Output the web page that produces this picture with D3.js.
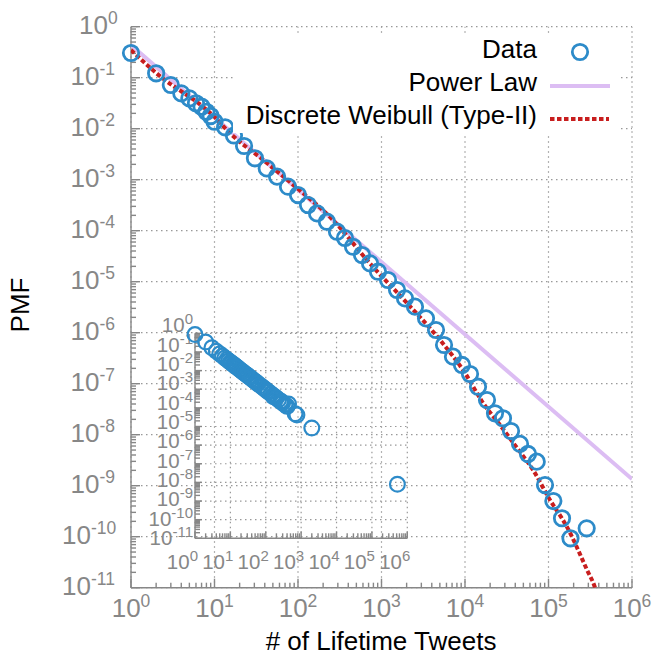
<!DOCTYPE html>
<html>
<head>
<meta charset="utf-8">
<script src="https://cdn.jsdelivr.net/npm/d3@7/dist/d3.min.js"></script>
<style>
  body { margin: 0; background: #fff; }
  text { font-family: "Liberation Sans", Arial, Helvetica, sans-serif; }
</style>
</head>
<body>
<div class="canvas"></div>
<script>
// data
var tweets = [1, 2, 3, 4, 5, 6, 7, 8, 9, 10, 13.4, 17.1, 22.6, 30.5, 42.2, 56.1, 75.9, 100, 131.8, 169,
  222, 293, 365, 456, 584, 728, 908, 1197, 1535, 1910, 2518, 3412, 4498, 5610, 7180, 9200, 11480, 14320,
  18340, 22870, 28510, 35560, 45600, 56800, 72300, 90800, 114300, 145200, 183300, 286600];
var pmf = [0.305, 0.122, 0.072, 0.0494, 0.0394, 0.0315, 0.027, 0.0215, 0.0177, 0.0137, 0.01065, 7.36e-3,
  4.58e-3, 2.63e-3, 1.67e-3, 1.15e-3, 7.3e-4, 5.0e-4, 3.19e-4, 2.19e-4, 1.5e-4, 9.55e-5, 7.2e-5, 4.85e-5,
  3.33e-5, 2.29e-5, 1.57e-5, 1.08e-5, 6.87e-6, 4.72e-6, 3.24e-6, 1.91e-6, 1.13e-6, 5.74e-7, 3.39e-7,
  2.33e-7, 1.55e-7, 8.73e-8, 4.79e-8, 2.63e-8, 2.10e-8, 1.18e-8, 6.6e-9, 4.19e-9, 2.96e-9, 1.03e-9,
  5.0e-10, 2.30e-10, 9.3e-11, 1.46e-10];

var powerLawX = [1, 1e6];
var powerLawY = [0.437, 1.35e-9];

var weibullX = [1, 2, 10, 15.3, 38.1, 97.3, 241.6, 791, 2019, 5020, 10000, 16440, 26250, 41970, 65200,
  104200, 166700, 289000, 360600, 420000];
var weibullY = [0.349, 0.124, 0.017, 8.2e-3, 2.45e-3, 6.87e-4, 1.86e-4, 1.95e-5, 3.82e-6, 7.2e-7, 1.62e-7,
  4.19e-8, 1.55e-8, 5.5e-9, 2.04e-9, 5.25e-10, 1.55e-10, 2.24e-11, 1e-11, 4e-12];

// inset: raw (unbinned) values
var insetX = [1, 2, 3, 4, 5, 6, 7, 8, 9, 10, 11, 12, 13, 14, 15, 16, 18, 20, 22, 25, 28, 30, 33, 36, 40,
  45, 50, 55, 60, 70, 80, 90, 100, 110, 120, 140, 160, 164, 180, 200, 230, 260, 282, 300, 350, 400, 440,
  676, 759, 2000, 525000];
var insetY = [0.851, 0.34, 0.168, 0.109, 0.0786, 0.0601, 0.0478, 0.0393, 0.033, 0.0282, 0.0245, 0.0215,
  0.0191, 0.0171, 0.0155, 0.0141, 0.0118, 0.0101, 8.77e-3, 7.26e-3, 6.14e-3, 5.54e-3, 4.81e-3, 4.24e-3,
  3.62e-3, 3.04e-3, 2.6e-3, 2.26e-3, 1.99e-3, 1.58e-3, 1.3e-3, 1.09e-3, 9.3e-4, 8.1e-4, 7.1e-4, 5.7e-4,
  4.66e-4, 4.0e-4, 3.91e-4, 3.34e-4, 2.72e-4, 2.27e-4, 2.14e-4, 1.84e-4, 1.46e-4, 1.2e-4, 1.6e-4, 4.8e-5,
  4.17e-5, 8.3e-6, 7.9e-9];

var xExps = [0, 1, 2, 3, 4, 5, 6];
var yExps = [0, -1, -2, -3, -4, -5, -6, -7, -8, -9, -10, -11];
var legendNames = ['Data', 'Power Law', 'Discrete Weibull (Type-II)'];

var blue = '#2d8bc9', purple = '#dcbdf3', red = '#c81e1e', grey = '#878787';

var svg = d3.select('.canvas').append('svg')
  .attr('width', 653).attr('height', 656);

// main plot scales
var x = d3.scaleLog().domain([1, 1e6]).range([131, 632]);
var y = d3.scaleLog().domain([1e-11, 1]).range([587.7, 26.7]);

// inset scales
var ix = d3.scaleLog().domain([1, 1e6]).range([195, 407.3]);
var iy = d3.scaleLog().domain([1e-11, 1]).range([538.3, 333.3]);

function minors(exps) {
  var out = [];
  exps.forEach(function (e) {
    for (var k = 2; k <= 9; k++) out.push(k * Math.pow(10, e));
  });
  return out;
}

function drawGrid(g, sx, sy) {
  var x0 = sx.range()[0], x1 = sx.range()[1], y0 = sy.range()[0], y1 = sy.range()[1];
  g.selectAll('.hg').data(yExps).enter().append('line')
    .attr('x1', x0).attr('x2', x1)
    .attr('y1', function (e) { return sy(Math.pow(10, e)); })
    .attr('y2', function (e) { return sy(Math.pow(10, e)); });
  g.selectAll('.vg').data(xExps).enter().append('line')
    .attr('y1', y0).attr('y2', y1)
    .attr('x1', function (e) { return sx(Math.pow(10, e)); })
    .attr('x2', function (e) { return sx(Math.pow(10, e)); });
  g.selectAll('line')
    .style('stroke', '#999').style('stroke-width', 1.2).style('stroke-dasharray', '1.5,3.5');
}

function drawAxes(g, sx, sy, major, minor) {
  var x0 = sx.range()[0], y0 = sy.range()[0];
  g.append('line').attr('x1', x0).attr('x2', sx.range()[1]).attr('y1', y0).attr('y2', y0);
  g.append('line').attr('x1', x0).attr('x2', x0).attr('y1', y0).attr('y2', sy.range()[1]);
  xExps.forEach(function (e) {
    g.append('line').attr('x1', sx(Math.pow(10, e))).attr('x2', sx(Math.pow(10, e)))
      .attr('y1', y0).attr('y2', y0 - major);
  });
  minors(xExps.slice(0, -1)).forEach(function (v) {
    g.append('line').attr('x1', sx(v)).attr('x2', sx(v)).attr('y1', y0).attr('y2', y0 - minor);
  });
  yExps.forEach(function (e) {
    g.append('line').attr('x1', x0).attr('x2', x0 + major)
      .attr('y1', sy(Math.pow(10, e))).attr('y2', sy(Math.pow(10, e)));
  });
  minors(yExps.slice(1)).forEach(function (v) {
    g.append('line').attr('x1', x0).attr('x2', x0 + minor).attr('y1', sy(v)).attr('y2', sy(v));
  });
  g.selectAll('line').style('stroke', grey).style('stroke-width', 1.4);
}

function powerLabel(t, e, supSize, rise) {
  t.append('tspan').text('10');
  t.append('tspan').attr('dy', -rise).attr('font-size', supSize).text(String(e));
}

// grids
drawGrid(svg.append('g'), x, y);
drawGrid(svg.append('g'), ix, iy);

// main axes + tick labels
drawAxes(svg.append('g'), x, y, 9, 5);

var mainLabels = svg.append('g').attr('fill', grey).attr('font-size', 26);
yExps.forEach(function (e) {
  var t = mainLabels.append('text')
    .attr('x', 87.5 - 8.5 * String(e).length)
    .attr('y', y(Math.pow(10, e)) + 7);
  powerLabel(t, e, 17.5, 10);
});
xExps.forEach(function (e) {
  var t = mainLabels.append('text')
    .attr('x', x(Math.pow(10, e))).attr('y', 617)
    .attr('text-anchor', 'middle');
  powerLabel(t, e, 17.5, 10);
});

svg.append('text').attr('transform', 'translate(29,305) rotate(-90)')
  .attr('text-anchor', 'middle').attr('font-size', 26).text('PMF');
svg.append('text').attr('x', 381).attr('y', 650)
  .attr('text-anchor', 'middle').attr('font-size', 26).text('# of Lifetime Tweets');

// clip for main curves
svg.append('clipPath').attr('id', 'clipMain').append('rect')
  .attr('x', 131).attr('y', 26.7).attr('width', 501).attr('height', 561);

var line = d3.line()
  .x(function (d) { return x(d[0]); })
  .y(function (d) { return y(d[1]); });

svg.append('path')
  .datum(d3.zip(powerLawX, powerLawY))
  .attr('clip-path', 'url(#clipMain)')
  .attr('d', line)
  .style('fill', 'none').style('stroke', purple).style('stroke-width', 4);

svg.append('path')
  .datum(d3.zip(weibullX, weibullY))
  .attr('clip-path', 'url(#clipMain)')
  .attr('d', line.curve(d3.curveMonotoneX))
  .style('fill', 'none').style('stroke', red).style('stroke-width', 4)
  .style('stroke-dasharray', '4.5,2.5');

svg.append('g').selectAll('circle')
  .data(d3.zip(tweets, pmf))
  .enter().append('circle')
  .attr('cx', function (d) { return x(d[0]); })
  .attr('cy', function (d) { return y(d[1]); })
  .attr('r', 7.7)
  .style('fill', 'none').style('stroke', blue).style('stroke-width', 2.8);

// legend (opaque)
var legend = svg.append('g');
legend.append('rect').attr('x', 233).attr('y', 34).attr('width', 385).attr('height', 99)
  .style('fill', '#fff');
var legY = [58, 91, 124];
legend.selectAll('text').data(legendNames).enter().append('text')
  .attr('x', 537).attr('y', function (d, i) { return legY[i]; })
  .attr('text-anchor', 'end').attr('font-size', 26).text(function (d) { return d; });
legend.append('circle').attr('cx', 580).attr('cy', 52).attr('r', 7.7)
  .style('fill', 'none').style('stroke', blue).style('stroke-width', 2.8);
legend.append('line').attr('x1', 550).attr('x2', 610).attr('y1', 86).attr('y2', 86)
  .style('stroke', purple).style('stroke-width', 4);
legend.append('line').attr('x1', 550).attr('x2', 609).attr('y1', 119).attr('y2', 119)
  .style('stroke', red).style('stroke-width', 4).style('stroke-dasharray', '4.5,2.5');

// inset
drawAxes(svg.append('g'), ix, iy, 7, 5);
var insetLabels = svg.append('g').attr('fill', grey).attr('font-size', 20.5);
yExps.forEach(function (e, i) {
  var t = insetLabels.append('text')
    .attr('x', 193).attr('y', iy(Math.pow(10, e)) - 1 + 0.7 * i)
    .attr('text-anchor', 'end');
  powerLabel(t, e, 15, 8);
});
xExps.forEach(function (e) {
  var t = insetLabels.append('text')
    .attr('x', ix(Math.pow(10, e)) + 3).attr('y', 569)
    .attr('text-anchor', 'end');
  powerLabel(t, e, 15, 8);
});

svg.append('g').selectAll('circle')
  .data(d3.zip(insetX, insetY))
  .enter().append('circle')
  .attr('cx', function (d) { return ix(d[0]); })
  .attr('cy', function (d) { return iy(d[1]); })
  .attr('r', 7.4)
  .style('fill', 'none').style('stroke', blue).style('stroke-width', 2.2);
</script>
</body>
</html>
